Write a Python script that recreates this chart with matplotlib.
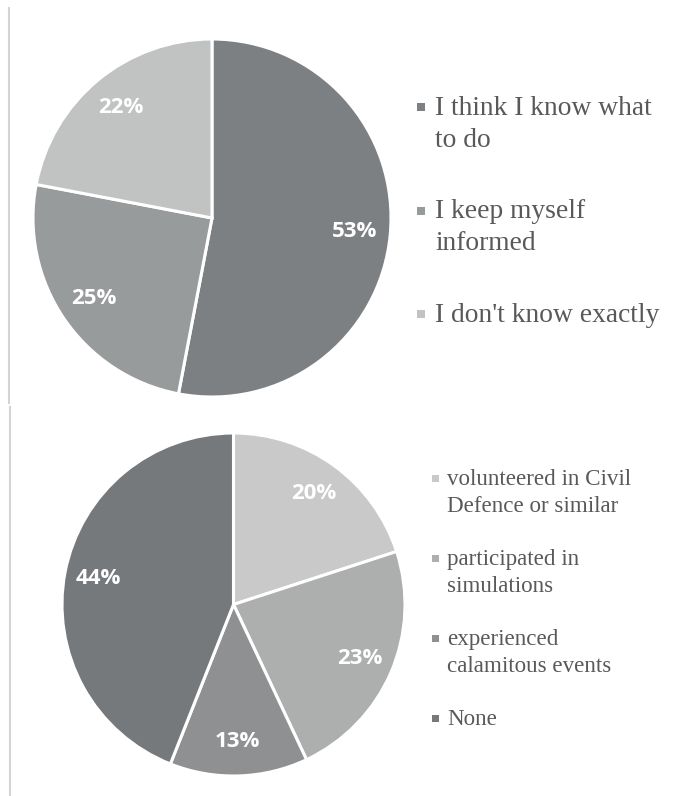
import numpy as np
import matplotlib.pyplot as plt
from matplotlib.patches import Rectangle
from matplotlib.lines import Line2D

# top pie: how people feel about emergencies
top_labels = ["I think I know what\nto do", "I keep myself\ninformed", "I don't know exactly"]
top_values = [53, 25, 22]
top_colors = ["#7d8083", "#989b9c", "#c1c3c2"]

# bottom pie: past experience
bot_labels = ["volunteered in Civil\nDefence or similar", "participated in\nsimulations",
              "experienced\ncalamitous events", "None"]
bot_values = [20, 23, 13, 44]
bot_colors = ["#c8c9c8", "#adaeae", "#8f9092", "#76797c"]

W, H = 684, 796
fig = plt.figure(figsize=(W / 100, H / 100), dpi=100)
fig.patch.set_facecolor("white")


def px_axes(cx, cy, r):
    # axes box in figure fraction from pixel centre / radius
    pad = r * 1.02
    return fig.add_axes([(cx - pad) / W, 1 - (cy + pad) / H, 2 * pad / W, 2 * pad / H])


def draw_pie(cx, cy, r, values, colors):
    ax = px_axes(cx, cy, r)
    ax.pie(values, colors=colors, startangle=90, counterclock=False,
           autopct=lambda p: "%d%%" % round(p), pctdistance=0.8,
           wedgeprops=dict(edgecolor="white", linewidth=2.2),
           textprops=dict(color="white", fontsize=16, fontweight="bold",
                          family="Open Sans"))
    lim = 1.02
    ax.set_xlim(-lim, lim)
    ax.set_ylim(-lim, lim)
    ax.set_aspect("equal")
    ax.axis("off")
    return ax


def draw_legend(x_mark, x_text, y0, step, line_h, msize, labels, colors, fs):
    for i, (lab, c) in enumerate(zip(labels, colors)):
        yb = y0 + i * step
        fig.patches.append(Rectangle(((x_mark) / W, 1 - (yb - fs * 0.28 + msize / 2) / H),
                                     msize / W, msize / H, transform=fig.transFigure,
                                     facecolor=c, edgecolor="none"))
        for j, line in enumerate(lab.split("\n")):
            fig.text(x_text / W, 1 - (yb + j * line_h) / H, line, fontsize=fs * 0.72,
                     family="Liberation Serif", color="#595959", va="baseline", ha="left")


draw_pie(212, 218, 179, top_values, top_colors)
draw_pie(233.5, 604.5, 171.5, bot_values, bot_colors)

draw_legend(417, 435, 115, 103.5, 32, 8, top_labels, top_colors, 27.5)
draw_legend(432, 447, 485, 80, 27, 7, bot_labels, bot_colors, 23)

# frame edges on the left
fig.add_artist(Line2D([8.5 / W, 8.5 / W], [1 - 8 / H, 1 - 403 / H], color="#d4d4d4", lw=1.5))
fig.add_artist(Line2D([9.5 / W, 9.5 / W], [1 - 407 / H, 0], color="#d4d4d4", lw=1.5))

fig.savefig("out.png", dpi=100, facecolor="white")
